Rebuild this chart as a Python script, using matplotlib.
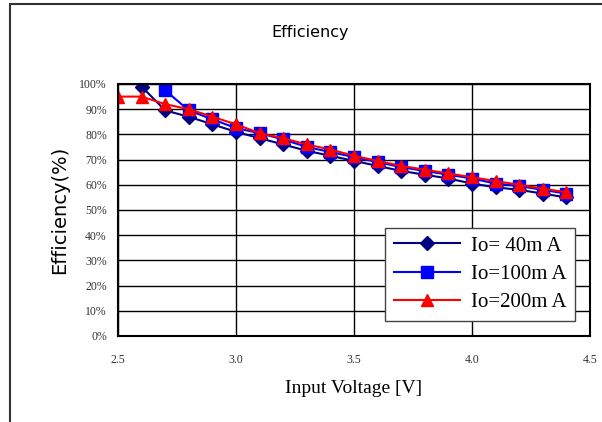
import matplotlib.pyplot as plt
import matplotlib.patches as patches

# data
v_40 = [2.6, 2.7, 2.8, 2.9, 3.0, 3.1, 3.2, 3.3, 3.4, 3.5,
        3.6, 3.7, 3.8, 3.9, 4.0, 4.1, 4.2, 4.3, 4.4]
eff_40 = [99, 89.5, 87, 84, 81, 78.5, 76, 73.5, 71.5, 69.5,
          67.5, 65.5, 64, 62.5, 60.5, 59, 58, 56.5, 55]
v_100 = [2.7, 2.8, 2.9, 3.0, 3.1, 3.2, 3.3, 3.4, 3.5,
         3.6, 3.7, 3.8, 3.9, 4.0, 4.1, 4.2, 4.3, 4.4]
eff_100 = [97.5, 89.5, 86, 82.5, 80.5, 78, 75, 73, 71,
           69, 67, 65.5, 64, 62.5, 60.5, 59.5, 58, 56.5]
v_200 = [2.5, 2.6, 2.7, 2.8, 2.9, 3.0, 3.1, 3.2, 3.3, 3.4, 3.5,
         3.6, 3.7, 3.8, 3.9, 4.0, 4.1, 4.2, 4.3, 4.4]
eff_200 = [95, 95, 92, 90, 87, 84, 80.5, 78.5, 76, 74, 71.5,
           69.5, 67.5, 66, 64.5, 63, 61.5, 60, 58.5, 57]
labels = ["Io= 40m A", "Io=100m A", "Io=200m A"]
x_ticks = [2.5, 3.0, 3.5, 4.0, 4.5]
y_ticks = list(range(0, 101, 10))

serif = "Liberation Serif"

fig = plt.figure(figsize=(6.02, 4.22), dpi=100)
# outer chart frame
fig.patches.append(patches.Rectangle((10 / 602, -0.1), 1.2, 1.1 - 4 / 422,
                                     transform=fig.transFigure, fill=False,
                                     edgecolor="#333333", lw=1.5))
ax = fig.add_axes([118 / 602, 86 / 422, 472 / 602, 252 / 422])

ax.plot(v_40, eff_40, "-D", color="#000080", ms=7, lw=1.5, label=labels[0])
ax.plot(v_100, eff_100, "-s", color="#0000FF", ms=9, lw=1.5, label=labels[1])
ax.plot(v_200, eff_200, "-^", color="#FF0000", ms=9, lw=1.5, label=labels[2])

ax.set_xlim(2.5, 4.5)
ax.set_ylim(0, 100)
ax.set_xticks(x_ticks)
ax.set_xticklabels([f"{t:.1f}" for t in x_ticks], family=serif, fontsize=8.5,
                   color="#333333")
ax.set_yticks(y_ticks)
ax.set_yticklabels([f"{t}%" for t in y_ticks], family=serif, fontsize=8.5,
                   color="#333333")
ax.tick_params(axis="x", length=0, pad=13)
ax.tick_params(axis="y", length=0, pad=8)
ax.grid(True, color="black", lw=1)
ax.set_axisbelow(True)
for s in ax.spines.values():
    s.set_linewidth(1.5)

ax.set_xlabel("Input Voltage [V]", family=serif, fontsize=14, labelpad=10)
ax.set_ylabel("Efficiency(%)", family="DejaVu Sans", fontsize=14, labelpad=7)
fig.text(310 / 602, 1 - 33 / 422, "Efficiency", ha="center", va="center",
         family="DejaVu Sans", fontsize=11.5)

leg = ax.legend(loc="lower right", bbox_to_anchor=(0.99, 0.02),
                prop={"family": serif, "size": 15}, fancybox=False,
                framealpha=1, edgecolor="#444444", handlelength=3.2,
                handletextpad=0.5, borderpad=0.4, labelspacing=0.42)
leg.get_frame().set_linewidth(1)

fig.savefig("out.png", dpi=100)
